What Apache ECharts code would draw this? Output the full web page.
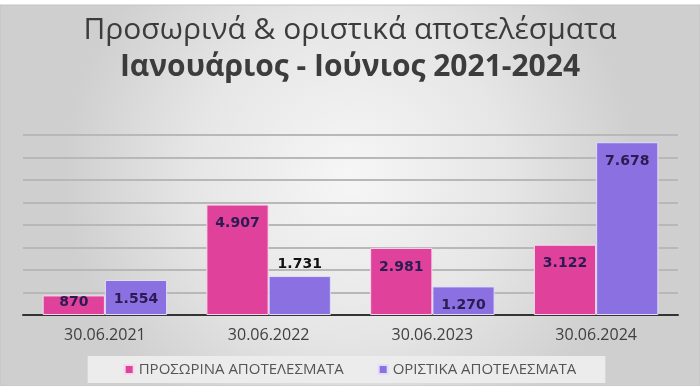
<!DOCTYPE html>
<html>
<head>
<meta charset="utf-8">
<script src="https://cdn.jsdelivr.net/npm/echarts@6/dist/echarts.min.js"></script>
<style>
html,body{margin:0;padding:0;background:#ffffff;}
#chart{width:700px;height:386px;}
</style>
</head>
<body>
<div id="chart"></div>
<script>
var titleLine1 = 'Προσωρινά & οριστικά αποτελέσματα';
var titleLine2 = 'Ιανουάριος - Ιούνιος 2021-2024';
var categories = ['30.06.2021', '30.06.2022', '30.06.2023', '30.06.2024'];
var seriesNames = ['ΠΡΟΣΩΡΙΝΑ ΑΠΟΤΕΛΕΣΜΑΤΑ', 'ΟΡΙΣΤΙΚΑ ΑΠΟΤΕΛΕΣΜΑΤΑ'];
var provisional = [870, 4907, 2981, 3122];
var finalResults = [1554, 1731, 1270, 7678];
var yMin = 0, yMax = 8000, yInterval = 1000;

function fmt(v) {
  return String(v).replace(/\B(?=(\d{3})+(?!\d))/g, '.');
}

var chart = echarts.init(document.getElementById('chart'), null, {renderer: 'canvas'});

var labelBase = {
  show: true,
  position: 'insideTop',
  distance: 12,
  fontFamily: 'DejaVu Sans',
  fontWeight: 'bold',
  fontSize: 14,
  color: '#2a1c52',
  formatter: function (p) { return fmt(p.value); }
};

function buildData(values, overrides) {
  return values.map(function (v, i) {
    var item = {value: v};
    if (overrides[i]) item.label = overrides[i];
    return item;
  });
}

var option = {
  animation: false,
  backgroundColor: 'transparent',
  graphic: [{
    type: 'rect',
    z: -10,
    silent: true,
    shape: {x: 0, y: 5, width: 700, height: 381},
    style: {
      fill: new echarts.graphic.RadialGradient(0.5, 0.45, 0.75, [
        {offset: 0, color: '#f6f6f6'},
        {offset: 0.55, color: '#e6e6e6'},
        {offset: 1, color: '#cfcfcf'}
      ]),
      stroke: '#c4c4c4',
      lineWidth: 1
    }
  }],
  title: [{
    text: titleLine1,
    left: 'center',
    top: 10,
    textStyle: {fontFamily: 'Open Sans', fontWeight: 'normal', fontSize: 30, color: '#3c3c3c'}
  }, {
    text: titleLine2,
    left: 'center',
    top: 47,
    textStyle: {fontFamily: 'Open Sans', fontWeight: 'bold', fontSize: 30, color: '#3c3c3c'}
  }],
  legend: {
    data: seriesNames,
    bottom: 3,
    left: 'center',
    itemWidth: 9,
    itemHeight: 9,
    itemGap: 34,
    icon: 'rect',
    padding: [6, 29, 6, 36],
    backgroundColor: '#ececec',
    textStyle: {fontFamily: 'Open Sans', fontSize: 15, color: '#555555'}
  },
  grid: {left: 23, right: 22, top: 135, bottom: 71, containLabel: false},
  xAxis: {
    type: 'category',
    data: categories,
    axisTick: {show: false},
    axisLine: {lineStyle: {color: '#333333', width: 2}},
    axisLabel: {fontFamily: 'Open Sans', fontSize: 16, color: '#404040', margin: 12}
  },
  yAxis: {
    type: 'value',
    min: yMin,
    max: yMax,
    interval: yInterval,
    axisLabel: {show: false},
    axisLine: {show: false},
    axisTick: {show: false},
    splitLine: {lineStyle: {color: '#b8b8b8', width: 2}}
  },
  series: [{
    name: seriesNames[0],
    type: 'bar',
    barGap: '0%',
    barCategoryGap: '24%',
    itemStyle: {color: '#e0429b', borderColor: '#f6d8ea', borderWidth: 1},
    label: labelBase,
    data: buildData(provisional, {0: {distance: 0}})
  }, {
    name: seriesNames[1],
    type: 'bar',
    itemStyle: {color: '#8a70e0', borderColor: '#e2dcfa', borderWidth: 1},
    label: labelBase,
    data: buildData(finalResults, {1: {position: 'top', distance: 5, color: '#111111'}})
  }]
};
chart.setOption(option);
</script>
</body>
</html>
